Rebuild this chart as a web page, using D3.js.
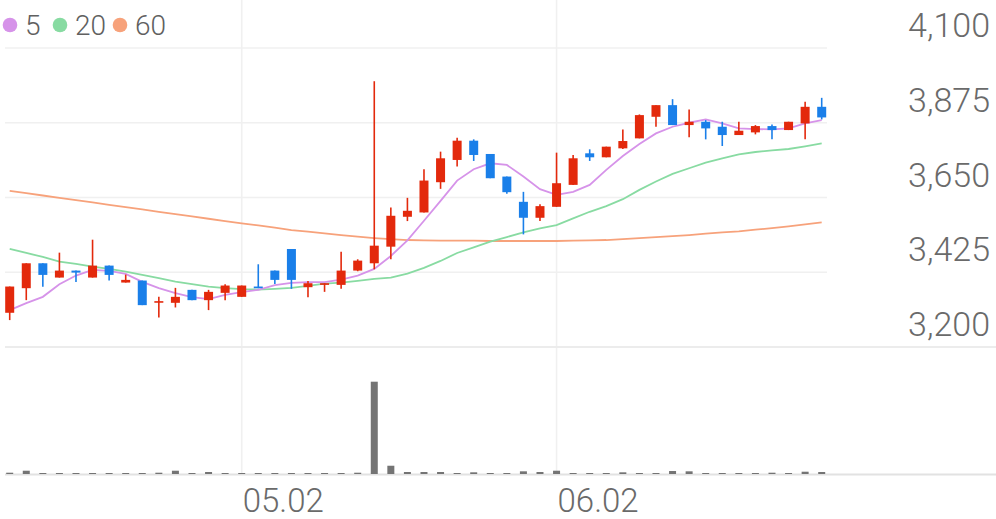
<!DOCTYPE html>
<html><head><meta charset="utf-8">
<script src="https://cdn.jsdelivr.net/npm/d3@7"></script>
<style>
body{margin:0;background:#fff}
svg{display:block}
text{font-family:Roboto,"Noto Sans",sans-serif;}
</style>
</head><body><svg id="c" width="996" height="519"></svg>
<script>
const dates = ["04.11","04.14","04.15","04.16","04.17","04.18","04.21","04.22","04.23","04.24","04.25","04.28","04.29","04.30",
"05.02","05.07","05.08","05.09","05.12","05.13","05.14","05.15","05.16","05.19","05.20","05.21","05.22","05.23","05.26","05.27","05.28","05.29","05.30",
"06.02","06.04","06.05","06.09","06.10","06.11","06.12","06.13","06.16","06.17","06.18","06.19","06.20","06.23","06.24","06.25","06.26"];
const openP  = [3303,3377,3452,3409,3430,3409,3445,3394,3400,3334,3333,3372,3341,3363,3351,3382,3430,3495,3380,3387,3387,3430,3452,3502,3592,3605,3696,3763,3821,3781,3713,3637,3589,3622,3688,3783,3771,3798,3828,3893,3928,3868,3878,3863,3838,3846,3865,3853,3873,3923];
const highP  = [3382,3452,3452,3484,3430,3523,3445,3418,3400,3351,3378,3372,3372,3389,3385,3449,3430,3495,3399,3392,3487,3464,4000,3620,3649,3735,3788,3830,3825,3781,3713,3667,3630,3785,3778,3795,3803,3855,3900,3928,3946,3915,3883,3878,3878,3868,3870,3878,3938,3950];
const lowP   = [3281,3341,3381,3409,3396,3409,3400,3394,3326,3289,3319,3341,3311,3341,3351,3377,3390,3375,3350,3366,3375,3428,3434,3464,3579,3605,3676,3743,3760,3708,3661,3539,3579,3622,3688,3760,3771,3796,3828,3863,3868,3831,3825,3805,3838,3840,3825,3853,3825,3885];
const closeP = [3382,3452,3417,3430,3424,3445,3417,3402,3326,3338,3351,3341,3366,3385,3385,3377,3402,3402,3392,3392,3430,3460,3505,3595,3610,3701,3768,3821,3778,3708,3666,3589,3624,3693,3768,3771,3803,3820,3898,3928,3868,3878,3858,3838,3851,3865,3853,3878,3923,3891];
const volume = [130000,330000,100000,30000,30000,30000,20000,30000,100000,130000,330000,30000,200000,30000,20000,30000,30000,30000,30000,100000,30000,130000,9270000,830000,200000,
200000,200000,30000,170000,30000,100000,270000,200000,330000,100000,30000,100000,170000,30000,100000,300000,270000,30000,100000,30000,10000,130000,30000,230000,200000];
const ma5  = [3311,3332,3351,3389,3415,3432,3429,3420,3396,3377,3362,3350,3344,3357,3365,3372,3386,3393,3395,3395,3403,3415,3435,3474,3521,3580,3640,3701,3735,3753,3748,3713,3675,3658,3667,3688,3733,3775,3811,3843,3863,3875,3885,3873,3858,3856,3855,3858,3873,3883];
const ma20 = [3495,3483,3471,3457,3450,3442,3435,3427,3417,3407,3397,3389,3382,3377,3374,3373,3375,3378,3384,3391,3394,3399,3405,3409,3421,3438,3459,3483,3500,3517,3531,3545,3557,3567,3587,3607,3624,3645,3673,3698,3721,3738,3755,3768,3780,3787,3792,3796,3804,3813];
const ma60 = [3670,3663,3656,3649,3642,3635,3628,3621,3614,3607,3600,3593,3586,3579,3572,3566,3559,3552,3547,3542,3537,3532,3528,3525,3522,3521,3520,3520,3520,3519,3519,3519,3519,3519,3520,3521,3522,3525,3528,3531,3534,3537,3541,3545,3548,3553,3558,3563,3569,3575];
const priceTicks = [3200,3425,3650,3875,4100];
const dateTicks = ["05.02","06.02"];
const legendLabels = ["5","20","60"];

const colUp = "#e3290c", colDown = "#1a7fe9";
const maColors = ["#d693e9","#88dba2","#f7a27b"];

const svg = d3.select("#c");
const x = d3.scalePoint().domain(dates).range([9.7, 821.7]);
const y = d3.scaleLinear().domain([3200, 4100]).range([347, 48]);
const yv = d3.scaleLinear().domain([0, d3.max(volume)]).range([474, 381.7]);

// horizontal gridlines
svg.append("g").selectAll("line").data(priceTicks.filter(t => t !== 3200)).join("line")
  .attr("x1", 5).attr("x2", 827).attr("y1", d => y(d)).attr("y2", d => y(d))
  .attr("stroke", "#f0f0f0").attr("stroke-width", 1.6);
// vertical gridlines
svg.append("g").selectAll("line").data(dateTicks).join("line")
  .attr("x1", d => x(d)).attr("x2", d => x(d)).attr("y1", 0).attr("y2", 474)
  .attr("stroke", "#f0f0f0").attr("stroke-width", 1.6);
// price bottom line
svg.append("line").attr("x1", 5).attr("x2", 996).attr("y1", y(3200)).attr("y2", y(3200))
  .attr("stroke", "#ececec").attr("stroke-width", 2);
// volume baseline
svg.append("line").attr("x1", 5).attr("x2", 996).attr("y1", yv(0)+0.5).attr("y2", yv(0)+0.5)
  .attr("stroke", "#e2e2e2").attr("stroke-width", 2);

// price labels
svg.append("g").selectAll("text").data(priceTicks).join("text")
  .attr("x", 990).attr("y", d => y(d) - 11).attr("text-anchor", "end")
  .attr("font-size", 34).attr("font-weight", 300).attr("fill", "#6a6a6a")
  .text(d => d3.format(",")(d));
// date labels
svg.append("g").selectAll("text").data(dateTicks).join("text")
  .attr("x", d => x(d) + 1).attr("y", 512).attr("text-anchor", "start")
  .attr("font-size", 33).attr("font-weight", 300).attr("fill", "#6a6a6a")
  .text(d => d);

// volume bars
const idx = d3.range(dates.length);
svg.append("g").selectAll("rect").data(idx).join("rect")
  .attr("x", i => x(dates[i]) - 3.5).attr("width", 7)
  .attr("y", i => Math.min(yv(volume[i]), yv(0) - 1))
  .attr("height", i => Math.max(yv(0) - yv(volume[i]), 1))
  .attr("fill", "#747474");

// MA lines
const line = arr => d3.line().x((d, i) => x(dates[i])).y(d => y(d))(arr);
[ma60, ma20, ma5].forEach((arr, k) => {
  svg.append("path").attr("d", line(arr)).attr("fill", "none")
    .attr("stroke", maColors[2 - k]).attr("stroke-width", 1.8);
});

// candles
const cg = svg.append("g");
idx.forEach(i => {
  const c = closeP[i] >= openP[i] ? colUp : colDown;
  const cx = x(dates[i]);
  cg.append("line").attr("x1", cx).attr("x2", cx).attr("y1", y(highP[i])).attr("y2", y(lowP[i]))
    .attr("stroke", c).attr("stroke-width", 1.6);
  const top = y(Math.max(openP[i], closeP[i])), bot = y(Math.min(openP[i], closeP[i]));
  cg.append("rect").attr("x", cx - 4.5).attr("width", 9)
    .attr("y", top).attr("height", Math.max(bot - top, 1.6)).attr("fill", c);
});

// legend
const lg = svg.append("g");
const lx = [10, 60, 120];
legendLabels.forEach((t, k) => {
  lg.append("circle").attr("cx", lx[k]).attr("cy", 25).attr("r", 7.3).attr("fill", maColors[k]);
  lg.append("text").attr("x", lx[k] + 15).attr("y", 35).attr("font-size", 28).attr("font-weight", 300)
    .attr("fill", "#606060").text(t);
});
</script>
</body></html>
